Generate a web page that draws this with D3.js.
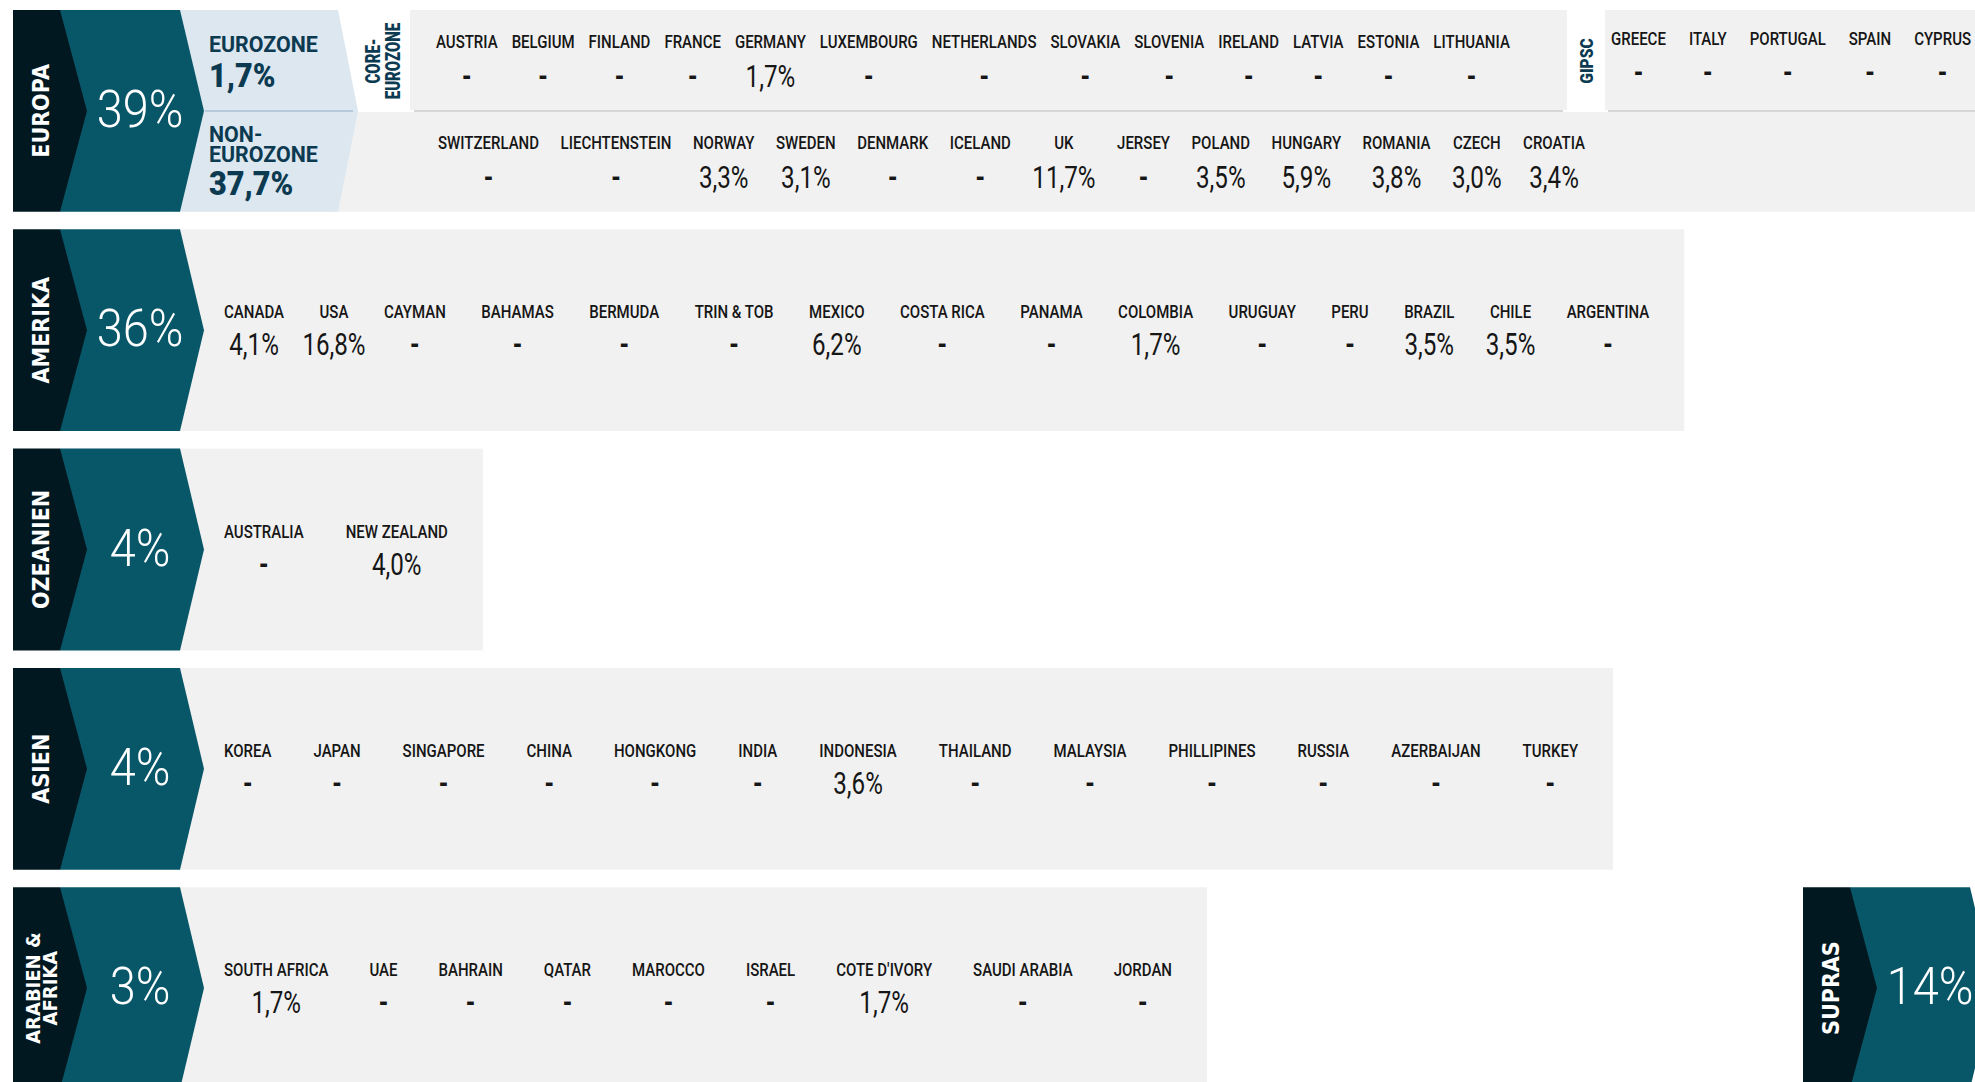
<!DOCTYPE html>
<html>
<head>
<meta charset="utf-8">
<script src="https://cdn.jsdelivr.net/npm/d3@7"></script>
<style>
  body { margin: 0; background: #fff; }
  svg { display: block; }
</style>
</head>
<body>
<svg id="chart"></svg>
<script>
// ---- data ----
const regionNames = ['EUROPA', 'AMERIKA', 'OZEANIEN', 'ASIEN', 'ARABIEN & AFRIKA'];
const regionShares = [39, 36, 4, 4, 3];
const suprasName = 'SUPRAS';
const suprasShare = 14;

const eurozoneShare = 1.7;
const nonEurozoneShare = 37.7;

const coreCountries = ['AUSTRIA', 'BELGIUM', 'FINLAND', 'FRANCE', 'GERMANY', 'LUXEMBOURG', 'NETHERLANDS',
  'SLOVAKIA', 'SLOVENIA', 'IRELAND', 'LATVIA', 'ESTONIA', 'LITHUANIA'];
const coreValues = [null, null, null, null, 1.7, null, null, null, null, null, null, null, null];

const gipscCountries = ['GREECE', 'ITALY', 'PORTUGAL', 'SPAIN', 'CYPRUS'];
const gipscValues = [null, null, null, null, null];

const nonEuroCountries = ['SWITZERLAND', 'LIECHTENSTEIN', 'NORWAY', 'SWEDEN', 'DENMARK', 'ICELAND', 'UK',
  'JERSEY', 'POLAND', 'HUNGARY', 'ROMANIA', 'CZECH', 'CROATIA'];
const nonEuroValues = [null, null, 3.3, 3.1, null, null, 11.7, null, 3.5, 5.9, 3.8, 3.0, 3.4];

const americaCountries = ['CANADA', 'USA', 'CAYMAN', 'BAHAMAS', 'BERMUDA', 'TRIN & TOB', 'MEXICO', 'COSTA RICA',
  'PANAMA', 'COLOMBIA', 'URUGUAY', 'PERU', 'BRAZIL', 'CHILE', 'ARGENTINA'];
const americaValues = [4.1, 16.8, null, null, null, null, 6.2, null, null, 1.7, null, null, 3.5, 3.5, null];

const oceaniaCountries = ['AUSTRALIA', 'NEW ZEALAND'];
const oceaniaValues = [null, 4.0];

const asiaCountries = ['KOREA', 'JAPAN', 'SINGAPORE', 'CHINA', 'HONGKONG', 'INDIA', 'INDONESIA', 'THAILAND',
  'MALAYSIA', 'PHILLIPINES', 'RUSSIA', 'AZERBAIJAN', 'TURKEY'];
const asiaValues = [null, null, null, null, null, null, 3.6, null, null, null, null, null, null];

const africaCountries = ['SOUTH AFRICA', 'UAE', 'BAHRAIN', 'QATAR', 'MAROCCO', 'ISRAEL', 'COTE D\'IVORY',
  'SAUDI ARABIA', 'JORDAN'];
const africaValues = [1.7, null, null, null, null, null, 1.7, null, null];

// ---- config ----
const W = 1975, H = 1082;
const DARK = '#021820', TEAL = '#085769', LIGHT_BLUE = '#dde7f0', GRAY = '#f1f1f1', NAVY = '#0c3a51';
const LABEL_SX = 0.79, VALUE_SX = 0.78;

const fmtPct = v => v == null ? '-' : d3.format('.1f')(v).replace('.', ',') + '%';

const svg = d3.select('#chart').attr('width', W).attr('height', H);

const y = d3.scaleBand().domain(regionNames).range([10, 1089]).paddingInner(0.08);
const h = y.bandwidth();

// lays out one line of country columns, returns the right edge of the content
function countryRow(g, countries, values, opt) {
  const items = countries.map((c, i) => ({name: c, value: values[i]}));
  const cols = g.selectAll('g.col')
    .data(items)
    .join('g')
      .attr('class', 'col');

  cols.append('text')
      .attr('class', 'lbl')
      .attr('text-anchor', 'middle')
      .attr('transform', `translate(0,${opt.labelY}) scale(${LABEL_SX},1)`)
      .style('font-family', 'Roboto, sans-serif')
      .style('font-weight', 500)
      .style('font-size', '19px')
      .attr('fill', '#161616')
      .text(d => d.name);

  cols.append('text')
      .attr('class', 'val')
      .attr('text-anchor', 'middle')
      .attr('transform', `translate(0,${opt.valueY}) scale(${VALUE_SX},1)`)
      .style('font-family', 'Roboto, sans-serif')
      .style('font-weight', d => d.value == null ? 700 : 400)
      .style('font-size', '31px')
      .attr('fill', '#161616')
      .text(d => fmtPct(d.value));

  cols.each(function(d) {
    const sel = d3.select(this);
    const lw = sel.select('.lbl').node().getComputedTextLength() * LABEL_SX;
    const vw = sel.select('.val').node().getComputedTextLength() * VALUE_SX;
    d.w = opt.mode === 'max' ? Math.max(lw, vw) : lw;
  });

  let x = opt.x0;
  items.forEach(d => { d.cx = x + d.w / 2; x += d.w + opt.gap; });
  cols.attr('transform', d => `translate(${d.cx},0)`);
  return x - opt.gap;
}

function chevron(g, x0, top, share, name) {
  const mid = top + h / 2, bot = top + h;
  g.append('polygon')
      .attr('points', [[x0 + 47, top], [x0 + 167, top], [x0 + 191, mid], [x0 + 167, bot], [x0 + 47, bot]].join(' '))
      .attr('fill', TEAL);
  g.append('polygon')
      .attr('points', [[x0, top], [x0 + 47, top], [x0 + 74, mid], [x0 + 47, bot], [x0, bot]].join(' '))
      .attr('fill', DARK);

  g.append('text')
      .attr('transform', `translate(${x0 + 127},${top + 117}) scale(0.92,1)`)
      .attr('text-anchor', 'middle')
      .style('font-family', 'Roboto, sans-serif')
      .style('font-weight', 300)
      .style('font-size', '51px')
      .attr('fill', '#fff')
      .text(share + '%');

  const parts = name.split(' & ');
  const lines = parts.length > 1 ? [parts[0] + ' &', parts[1]] : parts;
  const fs = lines.length > 1 ? 20 : 23;
  lines.forEach((ln, i) => {
    const lx = x0 + 28 + (i - (lines.length - 1) / 2) * 17;
    g.append('text')
        .attr('transform', `translate(${lx},${mid}) rotate(-90) scale(0.9,1)`)
        .attr('text-anchor', 'middle')
        .attr('dominant-baseline', 'central')
        .style('font-family', '"DejaVu Sans", sans-serif')
        .style('font-weight', 700)
        .style('font-size', fs + 'px')
        .attr('fill', '#fff')
        .text(ln);
  });
}

function vLabel(g, lines, cx, cy, size, weight, sx) {
  lines.forEach((ln, i) => {
    g.append('text')
        .attr('transform', `translate(${cx + (i - (lines.length - 1) / 2) * 20},${cy}) rotate(-90) scale(${sx},1)`)
        .attr('text-anchor', 'middle')
        .attr('dominant-baseline', 'central')
        .style('font-family', 'Roboto, sans-serif')
        .style('font-weight', weight)
        .style('font-size', size + 'px')
        .attr('fill', NAVY)
        .text(ln);
  });
}

// ---- Europa row ----
{
  const top = y('EUROPA'), mid = top + h / 2, bot = top + h;
  const g = svg.append('g');

  // backgrounds
  g.append('rect').attr('x', 330).attr('y', mid + 1).attr('width', W - 330).attr('height', bot - mid - 1).attr('fill', GRAY);
  g.append('rect').attr('x', 410).attr('y', top).attr('width', 1567 - 410).attr('height', mid - 1 - top).attr('fill', GRAY);
  g.append('rect').attr('x', 1605).attr('y', top).attr('width', W - 1605).attr('height', mid - 1 - top).attr('fill', GRAY);
  g.append('line').attr('x1', 414).attr('x2', 1563).attr('y1', mid).attr('y2', mid).attr('stroke', '#d6d6d6').attr('stroke-width', 2);
  g.append('line').attr('x1', 1608).attr('x2', W).attr('y1', mid).attr('y2', mid).attr('stroke', '#d6d6d6').attr('stroke-width', 2);

  g.append('polygon')
      .attr('points', [[173, top], [338, top], [358, mid], [338, bot], [173, bot]].join(' '))
      .attr('fill', LIGHT_BLUE);
  g.append('line').attr('x1', 205).attr('x2', 353).attr('y1', mid).attr('y2', mid)
      .attr('stroke', '#a9c1d4').attr('stroke-width', 1.5);

  chevron(g, 13, top, regionShares[0], 'EUROPA');

  // eurozone / non-eurozone labels
  const zt = [
    {t: 'EUROZONE', dy: 42, fs: 23, fw: 700},
    {t: fmtPct(eurozoneShare), dy: 77, fs: 33, fw: 900},
    {t: 'NON-', dy: 132, fs: 23, fw: 700},
    {t: 'EUROZONE', dy: 152, fs: 23, fw: 700},
    {t: fmtPct(nonEurozoneShare), dy: 185, fs: 33, fw: 900}
  ];
  g.selectAll('text.zone')
    .data(zt)
    .join('text')
      .attr('class', 'zone')
      .attr('transform', d => `translate(209,${top + d.dy}) scale(0.93,1)`)
      .style('font-family', 'Roboto, sans-serif')
      .style('font-weight', d => d.fw)
      .style('font-size', d => d.fs + 'px')
      .attr('fill', NAVY)
      .text(d => d.t);

  vLabel(g, ['CORE-', 'EUROZONE'], 383, top + 51, 20, 900, 0.75);
  vLabel(g, ['GIPSC'], 1586, top + 51, 19, 900, 0.82);

  const halfTop = top + h / 4, halfBot = top + 3 * h / 4;
  countryRow(g.append('g'), coreCountries, coreValues, {x0: 436, gap: 14, labelY: halfTop - 12, valueY: halfTop + 27, mode: 'label'});
  countryRow(g.append('g'), gipscCountries, gipscValues, {x0: 1611, gap: 23, labelY: halfTop - 15, valueY: halfTop + 23, mode: 'label'});
  countryRow(g.append('g'), nonEuroCountries, nonEuroValues, {x0: 438, gap: 21.5, labelY: halfBot - 12, valueY: halfBot + 27, mode: 'max'});
}

// ---- other regions ----
const rows = [
  {region: 'AMERIKA', countries: americaCountries, values: americaValues, gap: 35.5},
  {region: 'OZEANIEN', countries: oceaniaCountries, values: oceaniaValues, gap: 42},
  {region: 'ASIEN', countries: asiaCountries, values: asiaValues, gap: 42},
  {region: 'ARABIEN & AFRIKA', countries: africaCountries, values: africaValues, gap: 41}
];

rows.forEach(r => {
  const top = y(r.region), mid = top + h / 2;
  const g = svg.append('g');
  const panel = g.append('rect').attr('x', 160).attr('y', top).attr('height', h).attr('fill', GRAY);
  const content = g.append('g');
  const end = countryRow(content, r.countries, r.values, {x0: 224, gap: r.gap, labelY: mid - 12, valueY: mid + 25, mode: 'label'});
  panel.attr('width', end + 35 - 160);
  chevron(g, 13, top, regionShares[regionNames.indexOf(r.region)], r.region);
});

// ---- supras ----
chevron(svg.append('g'), W - 172, y('ARABIEN & AFRIKA'), suprasShare, suprasName);
</script>
</body>
</html>
